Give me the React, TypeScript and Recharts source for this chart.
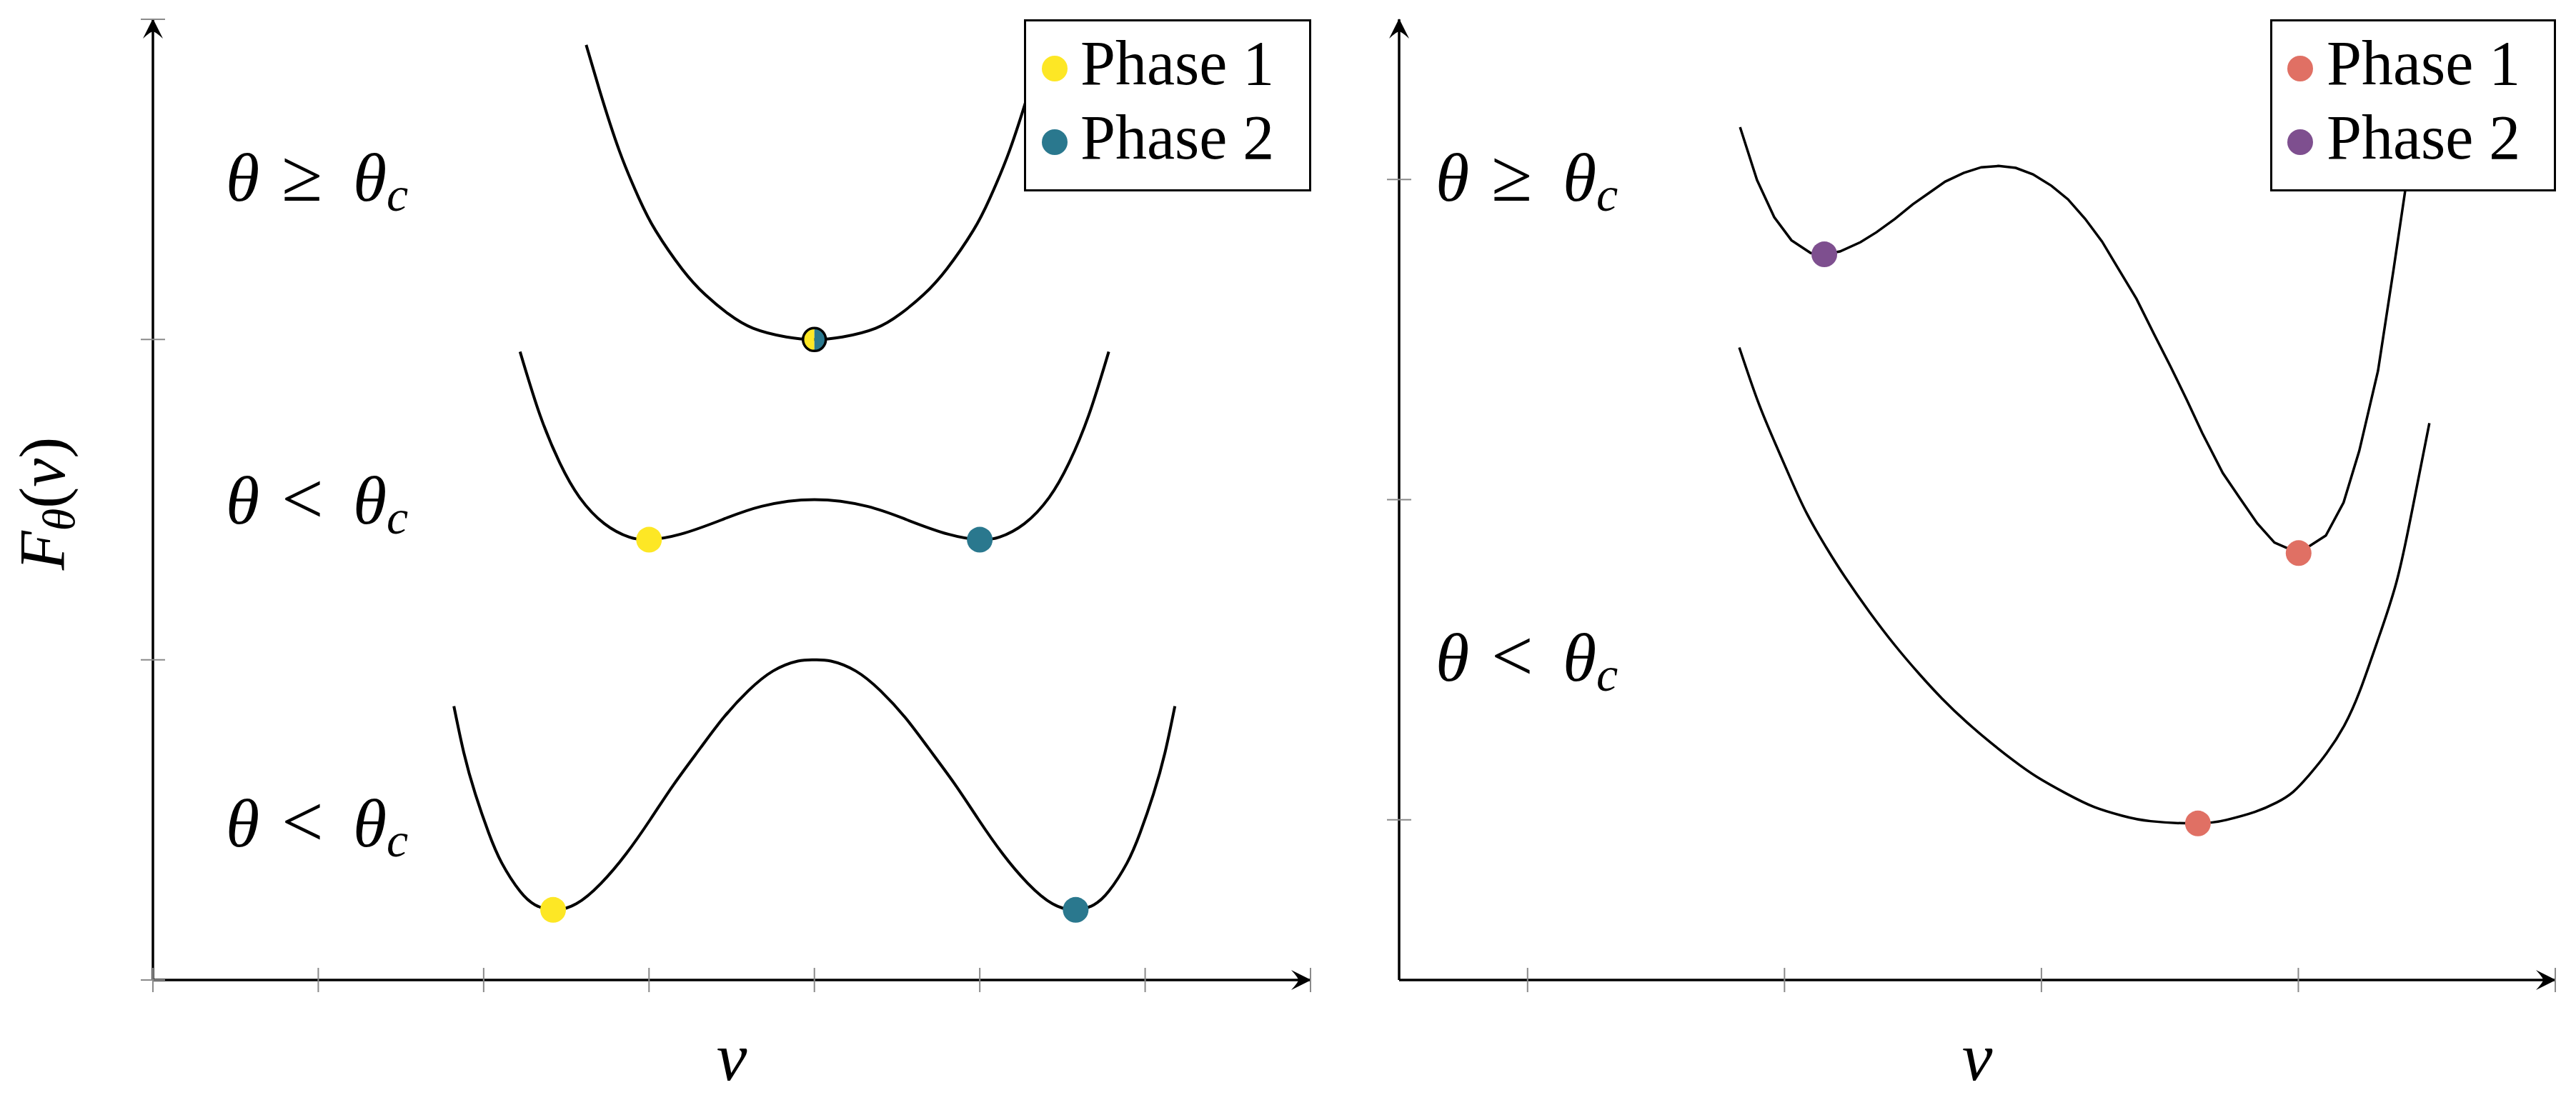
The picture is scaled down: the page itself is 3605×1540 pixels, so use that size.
import React from 'react';
import { ComposedChart, Line, Scatter, XAxis, YAxis, Legend } from 'recharts';

const FONT = "'Liberation Serif', 'Times New Roman', serif";

// ---------- colours ----------
const YELLOW = '#FDE725';
const TEAL = '#2A788E';
const CORAL = '#E07064';
const PURPLE = '#7E4F8F';

// ---------- left panel ----------
const leftXTicks = [0, 1, 2, 3, 4, 5, 6, 7];
const leftYTicks = [0, 1, 2, 3];

const leftCurveAbove: [number, number][] = [
  [2.62, 2.92], [2.70, 2.78], [2.82, 2.59], [2.94, 2.44], [3.04, 2.34], [3.20, 2.22],
  [3.34, 2.14], [3.48, 2.08], [3.63, 2.035], [3.83, 2.008], [4.00, 2.0], [4.17, 2.008],
  [4.37, 2.035], [4.52, 2.08], [4.66, 2.14], [4.80, 2.22], [4.96, 2.34], [5.06, 2.44],
  [5.18, 2.59], [5.30, 2.78], [5.38, 2.92],
];

const leftCurveShallow: [number, number][] = [
  [2.22, 1.962], [2.34, 1.765], [2.46, 1.615], [2.58, 1.507], [2.73, 1.425], [2.88, 1.383],
  [3.00, 1.375], [3.19, 1.392], [3.44, 1.437], [3.68, 1.479], [4.00, 1.5], [4.32, 1.479],
  [4.56, 1.437], [4.81, 1.392], [5.00, 1.375], [5.12, 1.383], [5.27, 1.425], [5.42, 1.507],
  [5.54, 1.615], [5.66, 1.765], [5.78, 1.962],
];

const leftCurveDeep: [number, number][] = [
  [1.82, 0.855], [1.88, 0.71], [1.95, 0.58], [2.03, 0.46], [2.11, 0.365], [2.22, 0.277],
  [2.31, 0.235], [2.42, 0.219], [2.56, 0.238], [2.71, 0.302], [2.86, 0.393], [3.01, 0.503],
  [3.15, 0.611], [3.31, 0.724], [3.45, 0.819], [3.60, 0.903], [3.75, 0.965], [3.90, 0.996],
  [4.00, 1.0], [4.10, 0.996], [4.25, 0.965], [4.40, 0.903], [4.55, 0.819], [4.69, 0.724],
  [4.85, 0.611], [4.99, 0.503], [5.14, 0.393], [5.29, 0.302], [5.44, 0.238], [5.58, 0.219],
  [5.69, 0.235], [5.78, 0.277], [5.89, 0.365], [5.97, 0.46], [6.05, 0.58], [6.12, 0.71],
  [6.18, 0.855],
];

const leftPhase1Points: [number, number][] = [[3.00, 1.375], [2.42, 0.219]];
const leftPhase2Points: [number, number][] = [[5.00, 1.375], [5.58, 0.219]];
const leftCriticalPoint: [number, number][] = [[4.00, 2.0]];

// ---------- right panel ----------
const rightXTicks = [0.5, 1.5, 2.5, 3.5, 4.5];
const rightYTicks = [0, 1, 2];

const rightCurveAbove: [number, number][] = [
  [1.327, 2.163], [1.393, 1.998], [1.460, 1.882], [1.527, 1.810], [1.602, 1.770],
  [1.655, 1.766], [1.716, 1.775], [1.796, 1.804], [1.858, 1.835], [1.930, 1.877],
  [1.999, 1.922], [2.063, 1.958], [2.125, 1.993], [2.197, 2.020], [2.266, 2.038],
  [2.333, 2.042], [2.400, 2.036], [2.467, 2.016], [2.539, 1.980], [2.603, 1.938],
  [2.670, 1.877], [2.736, 1.806], [2.798, 1.723], [2.870, 1.627], [2.939, 1.516],
  [3.003, 1.415], [3.065, 1.313], [3.126, 1.208], [3.206, 1.083], [3.273, 1.004],
  [3.340, 0.926], [3.407, 0.866], [3.501, 0.833], [3.607, 0.888], [3.676, 0.991],
  [3.737, 1.152], [3.810, 1.402], [3.871, 1.721], [3.915, 1.960], [3.954, 2.170],
];

const rightCurveBelow: [number, number][] = [
  [1.324, 1.475], [1.396, 1.308], [1.460, 1.183], [1.524, 1.065], [1.588, 0.955],
  [1.663, 0.850], [1.735, 0.759], [1.830, 0.650], [1.930, 0.545], [2.022, 0.458],
  [2.113, 0.379], [2.208, 0.306], [2.300, 0.243], [2.392, 0.185], [2.483, 0.134],
  [2.595, 0.083], [2.706, 0.040], [2.814, 0.013], [2.925, -0.004], [3.109, -0.011],
  [3.220, 0.000], [3.331, 0.025], [3.415, 0.054], [3.479, 0.087], [3.543, 0.141],
  [3.610, 0.208], [3.679, 0.295], [3.740, 0.404], [3.807, 0.556], [3.882, 0.743],
  [3.943, 0.967], [4.010, 1.239],
];

const rightPhase1Points: [number, number][] = [[3.501, 0.833], [3.109, -0.011]];
const rightPhase2Points: [number, number][] = [[1.655, 1.766]];

// ---------- text ----------
const legendLabels = ['Phase 1', 'Phase 2'];
const leftLegendColors = [YELLOW, TEAL];
const rightLegendColors = [CORAL, PURPLE];
const leftRegimeRelations = ['≥', '<', '<'];
const rightRegimeRelations = ['≥', '<'];
const xAxisLabel = 'v';

const pts = (arr: [number, number][]) => arr.map(([x, y]) => ({ x, y }));

const XTick = (props: any) => {
  const { x, y } = props;
  return <line x1={x} x2={x} y1={y - 17} y2={y + 17} stroke="#8a8a8a" strokeWidth={2} />;
};
const YTick = (props: any) => {
  const { x, y } = props;
  return <line x1={x - 17} x2={x + 17} y1={y} y2={y} stroke="#8a8a8a" strokeWidth={2} />;
};

const dotShape = (color: string) => (p: any) => (
  <circle cx={p.cx} cy={p.cy} r={18} fill={color} />
);

const halfDot = (p: any) => {
  const { cx, cy } = p;
  const r = 16;
  return (
    <g>
      <path d={`M ${cx} ${cy - r} A ${r} ${r} 0 0 0 ${cx} ${cy + r} Z`} fill={YELLOW} />
      <path d={`M ${cx} ${cy - r} A ${r} ${r} 0 0 1 ${cx} ${cy + r} Z`} fill={TEAL} />
      <circle cx={cx} cy={cy} r={r} fill="none" stroke="#000" strokeWidth={3.5} />
    </g>
  );
};

const LegendBox = ({ colors, w, dotX }: { colors: string[]; w: number; dotX: number }) => (
  <svg width={w} height={241} style={{ display: 'block' }}>
    <rect x={1.5} y={1.5} width={w - 3} height={238} fill="#fff" stroke="#000" strokeWidth={3} />
    {legendLabels.map((lab, i) => (
      <g key={lab}>
        <circle cx={dotX} cy={69 + i * 103} r={18} fill={colors[i]} />
        <text x={79} y={91 + i * 104} fontFamily={FONT} fontSize={88} fill="#000">
          {lab}
        </text>
      </g>
    ))}
  </svg>
);

const axisLineX = { stroke: '#000', strokeWidth: 3.5, markerEnd: 'url(#axisArrow)' };
const axisLineY = { stroke: '#000', strokeWidth: 3.5, markerStart: 'url(#axisArrow)' };

const Regime = ({ x, y, rel }: { x: number; y: number; rel: string }) => (
  <g fontFamily={FONT} fill="#000">
    <text x={x} y={y} fontSize={96} fontStyle="italic">θ</text>
    <text x={x + 78} y={y} fontSize={104}>{rel}</text>
    <text x={x + 178} y={y} fontSize={96} fontStyle="italic">θ</text>
    <text x={x + 225} y={y + 14} fontSize={68} fontStyle="italic">c</text>
  </g>
);

export default function App() {
  return (
    <div style={{ position: 'absolute', left: 0, top: 0, width: 3605, height: 1540, background: '#fff' }}>
      <svg width={0} height={0} style={{ position: 'absolute' }}>
        <defs>
          <marker
            id="axisArrow"
            viewBox="-30 -16 32 32"
            markerWidth={32}
            markerHeight={32}
            refX={0}
            refY={0}
            orient="auto-start-reverse"
            markerUnits="userSpaceOnUse"
          >
            <path d="M 1 0 L -27 -14 Q -17 -3 -17 0 Q -17 3 -27 14 Z" fill="#000" />
          </marker>
        </defs>
      </svg>

      {/* Left panel */}
      <div style={{ position: 'absolute', left: 0, top: 0 }}>
        <ComposedChart width={1900} height={1540} margin={{ top: 27, left: 213, right: 66, bottom: 167 }}>
          <XAxis
            type="number"
            dataKey="x"
            domain={[0, 7]}
            ticks={leftXTicks}
            interval={0}
            height={1}
            tickSize={0}
            tickMargin={0}
            tickLine={false}
            tick={XTick}
            axisLine={axisLineX as any}
            allowDataOverflow
          />
          <YAxis
            type="number"
            dataKey="y"
            domain={[0, 3]}
            ticks={leftYTicks}
            interval={0}
            width={1}
            tickSize={0}
            tickMargin={0}
            tickLine={false}
            tick={YTick}
            axisLine={axisLineY as any}
            allowDataOverflow
          />
          <Line data={pts(leftCurveAbove)} dataKey="y" type="natural" stroke="#000" strokeWidth={4} dot={false} activeDot={false} isAnimationActive={false} />
          <Line data={pts(leftCurveShallow)} dataKey="y" type="natural" stroke="#000" strokeWidth={4} dot={false} activeDot={false} isAnimationActive={false} />
          <Line data={pts(leftCurveDeep)} dataKey="y" type="natural" stroke="#000" strokeWidth={4} dot={false} activeDot={false} isAnimationActive={false} />
          <Scatter name="Phase 1" data={pts(leftPhase1Points)} dataKey="y" fill={YELLOW} shape={dotShape(YELLOW)} isAnimationActive={false} />
          <Scatter name="Phase 2" data={pts(leftPhase2Points)} dataKey="y" fill={TEAL} shape={dotShape(TEAL)} isAnimationActive={false} />
          <Scatter name="critical" data={pts(leftCriticalPoint)} dataKey="y" fill={TEAL} shape={halfDot} isAnimationActive={false} legendType="none" />
          <Legend
            layout="horizontal"
            verticalAlign="middle"
            align="center"
            wrapperStyle={{ left: 1433, top: 27, width: 402, height: 241 }}
            content={() => <LegendBox colors={leftLegendColors} w={402} dotX={43} />}
          />
        </ComposedChart>
      </div>

      {/* Right panel */}
      <div style={{ position: 'absolute', left: 1900, top: 0 }}>
        <ComposedChart width={1705} height={1540} margin={{ top: 27, left: 57, right: 29, bottom: 167 }}>
          <XAxis
            type="number"
            dataKey="x"
            domain={[0, 4.5]}
            ticks={rightXTicks}
            interval={0}
            height={1}
            tickSize={0}
            tickMargin={0}
            tickLine={false}
            tick={XTick}
            axisLine={axisLineX as any}
            allowDataOverflow
          />
          <YAxis
            type="number"
            dataKey="y"
            domain={[-0.5, 2.5]}
            ticks={rightYTicks}
            interval={0}
            width={1}
            tickSize={0}
            tickMargin={0}
            tickLine={false}
            tick={YTick}
            axisLine={axisLineY as any}
            allowDataOverflow
          />
          <Line data={pts(rightCurveAbove)} dataKey="y" type="linear" stroke="#000" strokeWidth={3.5} dot={false} activeDot={false} isAnimationActive={false} />
          <Line data={pts(rightCurveBelow)} dataKey="y" type="natural" stroke="#000" strokeWidth={3.5} dot={false} activeDot={false} isAnimationActive={false} />
          <Scatter name="Phase 1" data={pts(rightPhase1Points)} dataKey="y" fill={CORAL} shape={dotShape(CORAL)} isAnimationActive={false} />
          <Scatter name="Phase 2" data={pts(rightPhase2Points)} dataKey="y" fill={PURPLE} shape={dotShape(PURPLE)} isAnimationActive={false} />
          <Legend
            layout="horizontal"
            verticalAlign="middle"
            align="center"
            wrapperStyle={{ left: 1277, top: 27, width: 400, height: 241 }}
            content={() => <LegendBox colors={rightLegendColors} w={400} dotX={42} />}
          />
        </ComposedChart>
      </div>

      {/* Text overlay */}
      <svg width={3605} height={1540} style={{ position: 'absolute', left: 0, top: 0, pointerEvents: 'none' }}>
        <g fontFamily={FONT} fill="#000">
          <text transform="rotate(-90 90 705)" x={90} y={705} textAnchor="middle" fontSize={90}>
            <tspan fontStyle="italic">F</tspan>
            <tspan fontStyle="italic" fontSize={64} dy={14}>θ</tspan>
            <tspan dy={-14}>(</tspan>
            <tspan fontStyle="italic">v</tspan>
            <tspan>)</tspan>
          </text>
          <text x={1024} y={1512} textAnchor="middle" fontSize={96} fontStyle="italic">{xAxisLabel}</text>
          <text x={2767} y={1512} textAnchor="middle" fontSize={96} fontStyle="italic">{xAxisLabel}</text>
        </g>
        <Regime x={316} y={281} rel={leftRegimeRelations[0]} />
        <Regime x={316} y={733} rel={leftRegimeRelations[1]} />
        <Regime x={316} y={1185} rel={leftRegimeRelations[2]} />
        <Regime x={2009} y={281} rel={rightRegimeRelations[0]} />
        <Regime x={2009} y={953} rel={rightRegimeRelations[1]} />
      </svg>
    </div>
  );
}
